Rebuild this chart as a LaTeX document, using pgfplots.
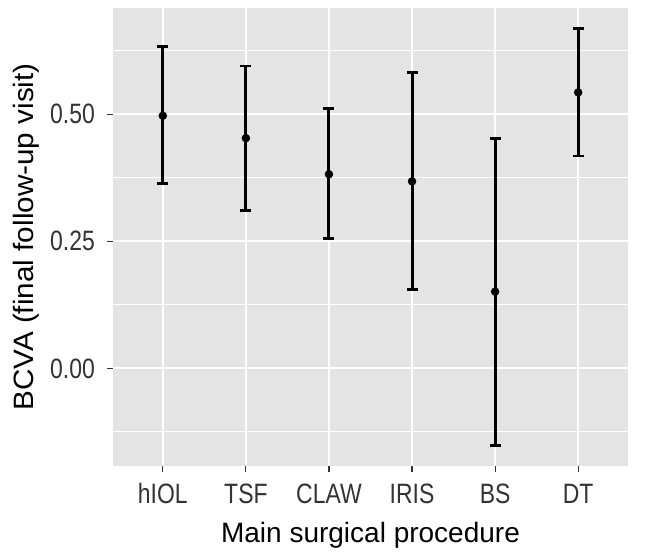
\documentclass[border=0pt]{standalone}
\usepackage{pgfplots}
\pgfplotsset{compat=1.18}
\usepackage{pgfplotstable}
\usepackage{fontspec}
\setmainfont{Liberation Sans}
\newfontfamily\tickfont{Liberation Sans}[FakeStretch=0.82]
\newfontfamily\ylabfont{Liberation Sans}[FakeStretch=1.06]
\definecolor{panelbg}{HTML}{E4E4E4}
\definecolor{tickcol}{HTML}{333333}
\pgfplotstableread{
x y lo hi
0 0.497 0.364 0.633
1 0.453 0.311 0.595
2 0.382 0.255 0.511
3 0.368 0.155 0.582
4 0.151 -0.151 0.452
5 0.543 0.418 0.668
}\datatab
\begin{document}
\begin{tikzpicture}
\useasboundingbox (-113pt,-88pt) rectangle (539pt,466pt);
\begin{axis}[
  scale only axis, width=515pt, height=458pt,
  xmin=-0.6, xmax=5.6, ymin=-0.192, ymax=0.709,
  xtick={0,1,2,3,4,5},
  xticklabels={hIOL,TSF,CLAW,IRIS,BS,DT},
  ytick={0,0.25,0.5},
  yticklabels={0.00,0.25,0.50},
  minor ytick={-0.125,0.125,0.375,0.625},
  minor tick length=0pt,
  major tick length=6pt,
  tick align=outside,
  xtick pos=bottom, ytick pos=left,
  tick style={color=tickcol, line width=1.1pt},
  axis line style={draw=none},
  axis background/.style={fill=panelbg},
  grid=both,
  major grid style={white, line width=2pt},
  minor grid style={white, line width=1pt},
  every tick label/.append style={font=\tickfont\fontsize{28}{32}\selectfont, text=tickcol, inner sep=0pt},
  xticklabel style={anchor=base, yshift=-31pt},
  yticklabel style={anchor=east, xshift=-12pt},
  xlabel={Main surgical procedure},
  ylabel={BCVA (final follow-up visit)},
  xlabel style={font=\fontsize{28}{32}\selectfont, at={(axis description cs:0.5,0)}, anchor=base, yshift=-76.7pt, inner sep=0pt},
  ylabel style={font=\ylabfont\fontsize{28}{32}\selectfont, at={(axis description cs:-0.1553,0.5)}, anchor=base, inner sep=0pt},
]
\addplot[only marks, mark=*, mark size=4pt, black,
  error bars/.cd, y dir=both, y explicit,
  error bar style={line width=3pt, black},
  error mark options={rotate=90, black, mark size=5.5pt, line width=2.8pt}]
  table[x=x, y=y, y error plus expr=\thisrow{hi}-\thisrow{y}, y error minus expr=\thisrow{y}-\thisrow{lo}] {\datatab};
\end{axis}
\end{tikzpicture}
\end{document}
